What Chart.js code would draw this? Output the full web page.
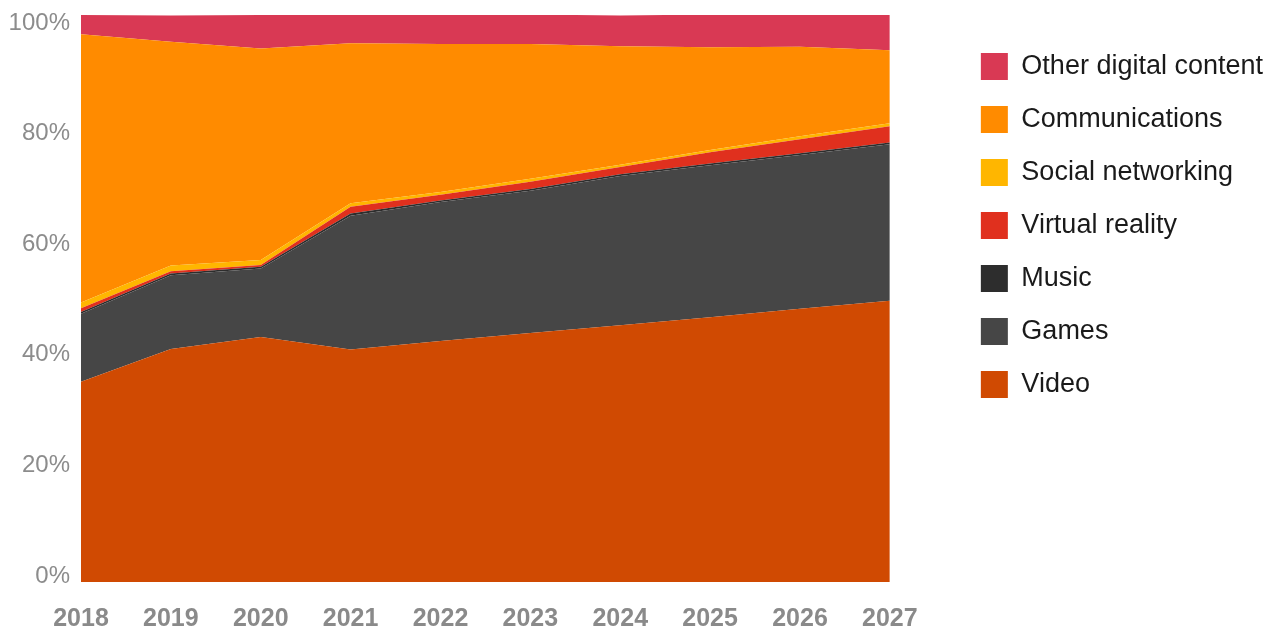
<!DOCTYPE html>
<html>
<head>
<meta charset="utf-8">
<title>Digital media revenue share</title>
<script src="https://cdn.jsdelivr.net/npm/chart.js@4"></script>
<style>
  html, body { margin: 0; padding: 0; background: #fff; }
  #wrap { width: 1276px; height: 631px; }
</style>
</head>
<body>
<div id="wrap"><canvas id="chart"></canvas></div>
<script>
// share of total revenue by segment, in percent
var years = ["2018", "2019", "2020", "2021", "2022", "2023", "2024", "2025", "2026", "2027"];

var video   = [35.3, 41.1, 43.2, 41.0, 42.5, 43.9, 45.3, 46.7, 48.2, 49.6];
var games   = [12.0, 13.0, 12.1, 23.6, 24.5, 25.1, 26.3, 26.8, 27.1, 27.6];
var music   = [0.3, 0.3, 0.3, 0.4, 0.3, 0.3, 0.3, 0.3, 0.3, 0.3];
var vr      = [0.7, 0.4, 0.3, 1.2, 1.0, 1.3, 1.3, 2.0, 2.5, 2.9];
var social  = [1.0, 1.0, 0.9, 0.6, 0.5, 0.5, 0.4, 0.4, 0.5, 0.5];
var comms   = [47.3, 39.5, 37.3, 28.2, 26.1, 23.8, 20.9, 18.1, 15.8, 12.9];
var other   = [3.4, 4.6, 5.9, 5.0, 5.1, 5.2, 5.4, 5.8, 5.7, 6.2];

var yTicks = [0, 20, 40, 60, 80, 100];

// bottom of the stack first
var segments = [
    {label: "Video", data: video, color: "#d04a02"},
    {label: "Games", data: games, color: "#464646"},
    {label: "Music", data: music, color: "#2d2d2d"},
    {label: "Virtual reality", data: vr, color: "#e0301e"},
    {label: "Social networking", data: social, color: "#ffb600"},
    {label: "Communications", data: comms, color: "#ff8b00"},
    {label: "Other digital content", data: other, color: "#d93954"}
];

var datasets = segments.map(function(s, i){
    return {
        label: s.label,
        data: s.data,
        backgroundColor: s.color,
        borderColor: s.color,
        borderWidth: 0,
        pointRadius: 0,
        tension: 0,
        fill: i === 0 ? "origin" : "-1",
        yAxisID: "share"
    };
});

Chart.defaults.font.family = "'Liberation Sans', Arial, sans-serif";

var ctx = document.getElementById("chart").getContext("2d");
var chart = new Chart(ctx, {
    type: "line",
    data: {labels: years, datasets: datasets},
    options: {
        responsive: true,
        maintainAspectRatio: false,
        animation: false,
        events: [],
        layout: {padding: {top: 15, right: 3, left: 0, bottom: 0}},
        plugins: {
            tooltip: {enabled: false},
            legend: {
                position: "right",
                align: "start",
                reverse: true,
                maxWidth: 400,
                // empty title just pushes the first entry down a bit
                title: {display: true, text: "", font: {size: 12, lineHeight: 1}, padding: 0},
                labels: {
                    boxWidth: 27,
                    boxHeight: 27,
                    padding: 26,
                    color: "#1a1a1a",
                    font: {size: 27}
                }
            }
        },
        scales: {
            x: {
                offset: false,
                grid: {display: false},
                border: {display: false},
                ticks: {
                    color: "#8a8a8a",
                    padding: 14,
                    maxRotation: 0,
                    autoSkip: false,
                    font: {size: 25, weight: "bold"}
                },
                afterFit: function(s){ s.height = 49; }
            },
            // labels only, the areas are drawn on "share"
            y: {
                position: "left",
                min: -1.085,
                max: 101.45,
                grid: {display: false},
                border: {display: false},
                afterBuildTicks: function(s){
                    s.ticks = yTicks.map(function(v){ return {value: v}; });
                },
                ticks: {
                    color: "#8c8c8c",
                    font: {size: 24, lineHeight: 1},
                    callback: function(v){ return v + "%"; }
                },
                afterFit: function(s){ s.width = 81; }
            },
            share: {
                display: false,
                stacked: true,
                min: 0,
                max: 100
            },
            gap: {
                position: "right",
                grid: {display: false},
                border: {display: false},
                ticks: {display: false},
                afterFit: function(s){ s.width = 65; }
            }
        }
    }
});
</script>
</body>
</html>
